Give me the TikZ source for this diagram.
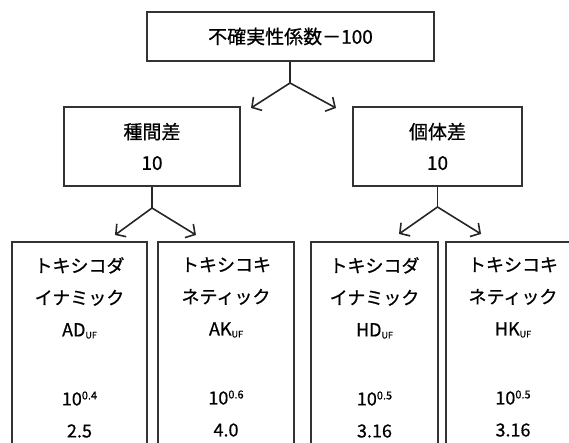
\documentclass[tikz,border=0pt]{standalone}
\usepackage{fontspec}
\setmainfont{Noto Sans CJK JP}[FakeBold=0.7]
\usetikzlibrary{arrows.meta,positioning,calc}
\newcommand\ufsub{{\fontsize{9}{9}\selectfont\raisebox{-2pt}{UF}}}
\newcommand\expo[1]{\raisebox{6pt}{\fontsize{11}{11}\selectfont #1}}

\begin{document}
\begin{tikzpicture}[x=1pt,y=-1pt] % pixel coordinates, y grows downwards
\tikzset{every node/.style={font=\fontsize{19}{19}\selectfont}}
\tikzset{box/.style={draw=black!80, line width=1.6pt, inner sep=0pt}}
\tikzset{midbox/.style={box, minimum height=79pt, align=center, font=\fontsize{19}{31}\selectfont}}
\tikzset{leafbox/.style={box, anchor=north, minimum height=240pt}}
\tikzset{leaftext/.style={anchor=north, align=center, inner sep=0pt, font=\fontsize{18}{32}\selectfont}}
\tikzset{split/.style={line width=1.6pt, draw=black!85}}
\tikzset{splitarrow/.style={split, -{Straight Barb[length=7pt,width=16pt]}}}
\useasboundingbox (0,0) rectangle (569,443);
\clip (0,0) rectangle (569,443);

% top box
\node[box, minimum width=287pt, minimum height=49pt] (ufall) at (290.5,36.5) {不確実性係数－100};

% second level
\node[midbox, minimum width=176pt] (species) at (152,146.5) {種間差\\10};
\node[midbox, minimum width=169pt] (indiv) at (437.5,146.5) {個体差\\10};

\coordinate (ufall fork) at (290,83);
\coordinate (species tip) at (251,108);
\coordinate (indiv tip) at (336,108);
\draw[split] (ufall fork |- ufall.south) -- (ufall fork);
\draw[splitarrow] (ufall fork) -- (species tip);
\draw[splitarrow] (ufall fork) -- (indiv tip);

% third level, boxes run off the bottom
\node[leafbox, minimum width=135pt] (ad) at (79.5,241) {};
\node[leafbox, minimum width=136pt] (ak) at (226,241) {};
\node[leafbox, minimum width=127pt] (hd) at (374.5,241) {};
\node[leafbox, minimum width=134pt] (hk) at (513,241) {};

\node[leaftext] (ad text) at ($(ad.north)+(0,16)$) {トキシコダ\\イナミック\\AD\ufsub\\[37pt]10\expo{0.4}\\2.5};
\node[leaftext] (ak text) at ($(ak.north)+(0,16)$) {トキシコキ\\ネティック\\AK\ufsub\\[37pt]10\expo{0.6}\\4.0};
\node[leaftext] (hd text) at ($(hd.north)+(0,16)$) {トキシコダ\\イナミック\\HD\ufsub\\[37pt]10\expo{0.5}\\3.16};
\node[leaftext] (hk text) at ($(hk.north)+(0,16)$) {トキシコキ\\ネティック\\HK\ufsub\\[37pt]10\expo{0.5}\\3.16};

\coordinate (species fork) at (152,208);
\coordinate (ad tip) at (115,235);
\coordinate (ak tip) at (196,235);
\draw[split] (species fork |- species.south) -- (species fork);
\draw[splitarrow] (species fork) -- (ad tip);
\draw[splitarrow] (species fork) -- (ak tip);

\coordinate (indiv fork) at (437.5,207);
\coordinate (hd tip) at (399,234);
\coordinate (hk tip) at (481,234);
\draw[split] (indiv fork |- indiv.south) -- (indiv fork);
\draw[splitarrow] (indiv fork) -- (hd tip);
\draw[splitarrow] (indiv fork) -- (hk tip);
\end{tikzpicture}
\end{document}
